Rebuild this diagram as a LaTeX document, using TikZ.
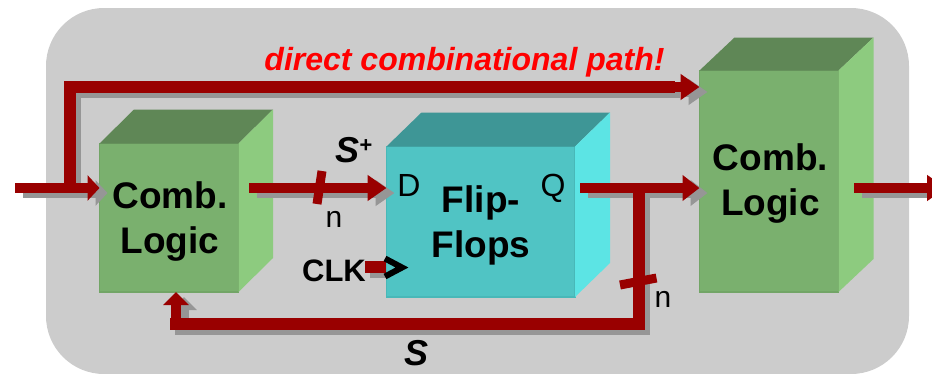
\documentclass[tikz,border=0pt]{standalone}
\usepackage{fontspec}
\setmainfont{Liberation Sans}
\usetikzlibrary{arrows.meta,calc}
\definecolor{panel}{HTML}{CCCCCC}
\definecolor{wirered}{HTML}{990000}
\definecolor{shade}{HTML}{969696}
\definecolor{gfront}{HTML}{7AB06E}
\definecolor{gedge}{HTML}{72A566}
\definecolor{gtop}{HTML}{5F8756}
\definecolor{gside}{HTML}{8DCB7F}
\definecolor{tfront}{HTML}{50C4C4}
\definecolor{tedge}{HTML}{48B8B8}
\definecolor{ttop}{HTML}{3E9696}
\definecolor{tside}{HTML}{5CE4E4}
\tikzset{
  front/.style={rectangle,inner sep=0pt,outer sep=0pt,line width=1.5pt,anchor=north west},
  greenfront/.style={front,fill=gfront,draw=gedge},
  tealfront/.style={front,fill=tfront,draw=tedge},
  blocktext/.style={font=\fontsize{37}{45}\selectfont\bfseries,align=center,text=black,inner sep=0pt},
  pintext/.style={font=\fontsize{32}{36}\selectfont,text=black,inner sep=0pt,anchor=base},
  ntext/.style={font=\fontsize{30}{36}\selectfont,text=black,inner sep=0pt,anchor=base},
  sigtext/.style={font=\fontsize{36}{44}\selectfont\bfseries\itshape,text=black,inner sep=0pt,anchor=base},
  clktext/.style={font=\fontsize{31}{36}\selectfont\bfseries,text=black,inner sep=0pt,anchor=base},
  hottext/.style={font=\fontsize{32}{38}\selectfont\bfseries\itshape,text=red,inner sep=0pt,anchor=base},
  tick/.style={draw=wirered,line width=9pt},
  clockmark/.style={draw=black,line width=6pt,miter limit=10},
  buslinebase/.style={line width=#1,line join=miter},
  busarrowbase/.style={line width=10pt,-{Triangle[length=#1,width=25pt]}},
}
% top and side faces of a box: node, depth x, depth y, top colour, side colour
\newcommand{\boxfaces}[5]{%
  \fill[#4] (#1.north west) -- ++(#2,-#3) -- ($(#1.north east)+(#2,-#3)$) -- (#1.north east) -- cycle;
  \fill[#5] (#1.north east) -- ++(#2,-#3) -- ($(#1.south east)+(#2,-#3)$) -- (#1.south east) -- cycle;
}
\newcommand{\wireset}{%
  \draw[busline=12pt] (jin) |- (bypassturn) -- (bypassend);
  \draw[busarrow=19pt] (bypassend) -- (c2top);
  \draw[busarrow=12pt] (in) -- (c1in);
  \draw[busarrow=19pt] (c1out) -- (dpin);
  \draw[busarrow=17pt] (qout) -- (c2mid);
  \draw[busline=12pt] (jq) -- (fbcorner) -- (fbleft);
  \draw[busarrow=13pt] (fbup) -- (c1under);
  \draw[busarrow=19pt] (c2out) -- (out);
}
\begin{document}
\begin{tikzpicture}[x=1pt,y=-1pt]
\useasboundingbox (0,0) rectangle (932,373);
\begin{scope}
\clip (0,0) rectangle (932,373);
\fill[panel,rounded corners=58pt] (46,8) rectangle (909,374);
\end{scope}

\coordinate (clkshadea) at (370,272);
\coordinate (clkshadeb) at (386,272);
\draw[buslinebase=12pt,draw=shade] (clkshadea) -- (clkshadeb);

\node[greenfront,minimum width=139pt,minimum height=148.5pt] (c1) at (99.5,143.5) {};
\node[tealfront,minimum width=188.5pt,minimum height=150.5pt] (ff) at (386.5,146.5) {};
\node[greenfront,minimum width=139pt,minimum height=221.5pt] (c2) at (699.5,70.5) {};
\boxfaces{c1}{34.5}{34}{gtop}{gside}
\boxfaces{ff}{35}{34}{ttop}{tside}
\boxfaces{c2}{35}{33}{gtop}{gside}

\coordinate (in) at (15,188);
\coordinate (jin) at (70,188);
\coordinate (bypassturn) at (70,87);
\coordinate (bypassend) at (675,87);
\coordinate (c2top) at (c2.west |- bypassend);
\coordinate (c1in) at (c1.west |- in);
\coordinate (c1out) at (249,188);
\coordinate (dpin) at (ff.west |- c1out);
\coordinate (qout) at (580,188);
\coordinate (c2mid) at (c2.west |- qout);
\coordinate (jq) at (639,188);
\coordinate (fbcorner) at (639,324);
\coordinate (fbleft) at (170,324);
\coordinate (fbup) at (176,320);
\coordinate (c1under) at (176,292);
\coordinate (c2out) at (854,188);
\coordinate (out) at (946,188);
\coordinate (clkstart) at (365,267);
\coordinate (clkend) at (386,267);

\begin{scope}
\clip (0,0) rectangle (932,373);
\begin{scope}[
  busline/.style={buslinebase=#1,draw=shade,transform canvas={xshift=5pt,yshift=-5pt}},
  busarrow/.style={busarrowbase=#1,draw=shade,transform canvas={xshift=8pt,yshift=-5pt}}]
  \wireset
\end{scope}
\begin{scope}[
  busline/.style={buslinebase=#1,draw=wirered},
  busarrow/.style={busarrowbase=#1,draw=wirered}]
  \wireset
\end{scope}
\end{scope}
\draw[buslinebase=12pt,draw=wirered] (clkstart) -- (clkend);

\coordinate (t1a) at (322,171);
\coordinate (t1b) at (317,204);
\draw[tick] (t1a) -- (t1b);
\coordinate (t2a) at (620,285);
\coordinate (t2b) at (656.5,278);
\draw[tick] (t2a) -- (t2b);

\coordinate (ck1) at (385,258.5);
\coordinate (ck2) at (402,267.5);
\coordinate (ck3) at (385,276.5);
\draw[clockmark] (ck1) -- (ck2) -- (ck3);

\node[blocktext] (c1label) at (170,222) {Comb.\\Logic};
\node[blocktext] (fflabel) at (481,225) {Flip-\\Flops};
\node[blocktext] (c2label) at (770.5,184) {Comb.\\Logic};
\node[hottext] (hot) at (464.5,70) {direct combinational path!};
\node[pintext] (dlabel) at (409,196) {D};
\node[pintext] (qlabel) at (553,196) {Q};
\node[ntext] (n1) at (334,227) {n};
\node[ntext] (n2) at (663,307) {n};
\node[clktext] (clk) at (334,281) {CLK};
\node[sigtext] (splus) at (353.5,162) {S\raisebox{10pt}{\fontsize{22}{22}\selectfont +}};
\node[sigtext] (slabel) at (417,365) {S};
\end{tikzpicture}
\end{document}
